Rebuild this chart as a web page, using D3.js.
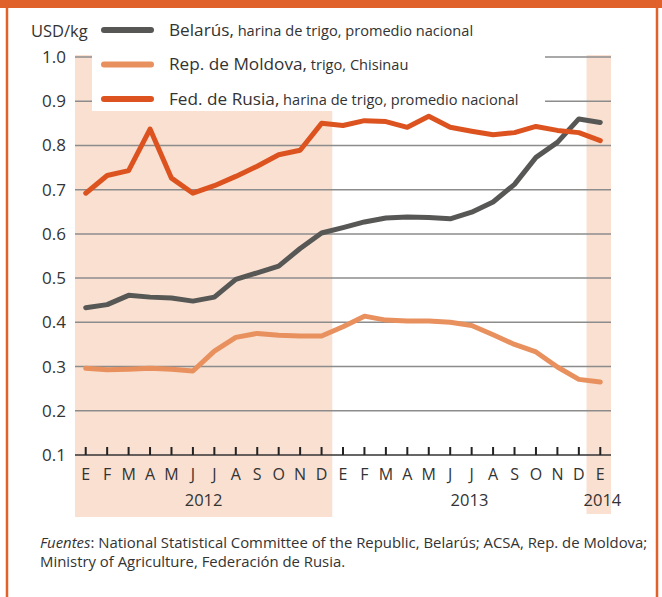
<!DOCTYPE html>
<html>
<head>
<meta charset="utf-8">
<script src="https://cdn.jsdelivr.net/npm/d3@7"></script>
<style>
  body { margin: 0; background: #fff; }
  text { font-family: "Open Sans", sans-serif; fill: #333; }
</style>
</head>
<body>
<div id="chart"></div>
<script>
// months Jan 2012 .. Jan 2014
const months = ['E','F','M','A','M','J','J','A','S','O','N','D',
                'E','F','M','A','M','J','J','A','S','O','N','D','E'];
const years = [{label: '2012', at: 5.5}, {label: '2013', at: 17.9}, {label: '2014', at: 24.1}];
const yTicks = [0.1, 0.2, 0.3, 0.4, 0.5, 0.6, 0.7, 0.8, 0.9, 1.0];

const belarus = [0.433, 0.440, 0.461, 0.457, 0.455, 0.448, 0.457, 0.497, 0.512, 0.527, 0.567, 0.602,
                 0.614, 0.627, 0.636, 0.638, 0.637, 0.634, 0.649, 0.672, 0.712, 0.773, 0.807, 0.860, 0.852];
const moldova = [0.296, 0.293, 0.294, 0.296, 0.294, 0.290, 0.335, 0.366, 0.375, 0.371, 0.369, 0.369,
                 0.390, 0.414, 0.405, 0.403, 0.403, 0.400, 0.393, 0.372, 0.350, 0.333, 0.299, 0.271, 0.265];
const russia  = [0.692, 0.732, 0.743, 0.837, 0.726, 0.692, 0.709, 0.730, 0.753, 0.779, 0.789, 0.850,
                 0.845, 0.856, 0.854, 0.841, 0.866, 0.841, 0.832, 0.824, 0.829, 0.843, 0.834, 0.829, 0.811];

const series = [
    {name: 'Belarús,', note: 'harina de trigo, promedio nacional', values: belarus, color: '#575756'},
    {name: 'Rep. de Moldova,', note: 'trigo, Chisinau', values: moldova, color: '#E8915F'},
    {name: 'Fed. de Rusia,', note: 'harina de trigo, promedio nacional', values: russia, color: '#DC5320'}
];

// shaded periods (month index ranges)
const bands = [[0, 11], [24, 24]];

const W = 662, H = 597;
const orange = '#E1612B';

const svg = d3.select('#chart').append('svg')
    .attr('width', W)
    .attr('height', H);

// frame
svg.append('rect').attr('x', 0).attr('y', 0).attr('width', W).attr('height', 8).attr('fill', orange);
svg.append('line').attr('x1', 7).attr('x2', 7).attr('y1', 0).attr('y2', H)
    .attr('stroke', orange).attr('stroke-width', 2.5);
svg.append('line').attr('x1', 657).attr('x2', 657).attr('y1', 0).attr('y2', H)
    .attr('stroke', orange).attr('stroke-width', 2.5);

// scales
let x = d3.scalePoint()
    .domain(d3.range(months.length))
    .range([75, 611])
    .padding(0.5);
let step = x.step();

let y = d3.scaleLinear()
    .domain([0.1, 1.0])
    .range([455, 57]);

// shaded bands
svg.selectAll('.band')
    .data(bands)
    .enter().append('rect')
    .attr('class', 'band')
    .attr('x', d => x(d[0]) - step / 2 - (d[0] === 24 ? 3 : 0))
    .attr('width', d => (d[1] - d[0] + 1) * step + (d[0] === 24 ? 3 : 0))
    .attr('y', 55)
    .attr('height', (d, i) => i === 0 ? 462 : 459)
    .attr('fill', '#F9E0D0');

// gridlines
svg.selectAll('.grid')
    .data(yTicks.slice(1))
    .enter().append('line')
    .attr('x1', x.range()[0]).attr('x2', x.range()[1])
    .attr('y1', d => y(d)).attr('y2', d => y(d))
    .attr('stroke', '#8c8c8c').attr('stroke-width', 1.5);

// y labels
svg.selectAll('.ylab')
    .data(yTicks)
    .enter().append('text')
    .attr('x', 66)
    .attr('y', d => y(d))
    .attr('dy', '0.35em')
    .attr('text-anchor', 'end')
    .style('font-size', '17px')
    .text(d => d3.format('.1f')(d));

svg.append('text').attr('x', 31).attr('y', 37)
    .style('font-size', '16.5px').text('USD/kg');

// x axis
svg.append('line')
    .attr('x1', x.range()[0]).attr('x2', x.range()[1])
    .attr('y1', y(0.1)).attr('y2', y(0.1))
    .attr('stroke', '#333').attr('stroke-width', 1.5);

svg.selectAll('.tick')
    .data(months)
    .enter().append('line')
    .attr('x1', (d, i) => x(i)).attr('x2', (d, i) => x(i))
    .attr('y1', y(0.1) - 8).attr('y2', y(0.1))
    .attr('stroke', '#222').attr('stroke-width', 2);

svg.selectAll('.mlab')
    .data(months)
    .enter().append('text')
    .attr('x', (d, i) => x(i))
    .attr('y', 480)
    .attr('text-anchor', 'middle')
    .style('font-size', '16px')
    .text(d => d);

svg.selectAll('.ylabel')
    .data(years)
    .enter().append('text')
    .attr('x', d => x(0) + d.at * step)
    .attr('y', 506)
    .attr('text-anchor', 'middle')
    .style('font-size', '16.5px')
    .text(d => d.label);

// lines
let line = d3.line()
    .x((d, i) => x(i))
    .y(d => y(d));

svg.selectAll('.series')
    .data(series)
    .enter().append('path')
    .attr('d', d => line(d.values))
    .attr('fill', 'none')
    .attr('stroke', d => d.color)
    .attr('stroke-width', 5)
    .attr('stroke-linejoin', 'round')
    .attr('stroke-linecap', 'round');

// legend box covers the top of the plot
let legend = svg.append('g');
legend.append('rect')
    .attr('x', 92).attr('y', 12)
    .attr('width', 453).attr('height', 99)
    .attr('fill', '#fff');

let item = legend.selectAll('.item')
    .data(series)
    .enter().append('g')
    .attr('transform', (d, i) => 'translate(0,' + (30 + i * 34.5) + ')');

item.append('line')
    .attr('x1', 104).attr('x2', 151)
    .attr('stroke', d => d.color)
    .attr('stroke-width', 6)
    .attr('stroke-linecap', 'round');

let label = item.append('text')
    .attr('x', 169)
    .attr('dy', '0.35em');
label.append('tspan').style('font-size', '17.2px').text(d => d.name);
label.append('tspan').style('font-size', '14.6px').text(d => ' ' + d.note);

// source note
let src = svg.append('text').attr('x', 40).attr('y', 548).style('font-size', '14.9px');
src.append('tspan').style('font-style', 'italic').text('Fuentes');
src.append('tspan').text(': National Statistical Committee of the Republic, Belarús; ACSA, Rep. de Moldova;');
svg.append('text').attr('x', 40).attr('y', 567).style('font-size', '14.9px')
    .text('Ministry of Agriculture, Federación de Rusia.');
</script>
</body>
</html>
